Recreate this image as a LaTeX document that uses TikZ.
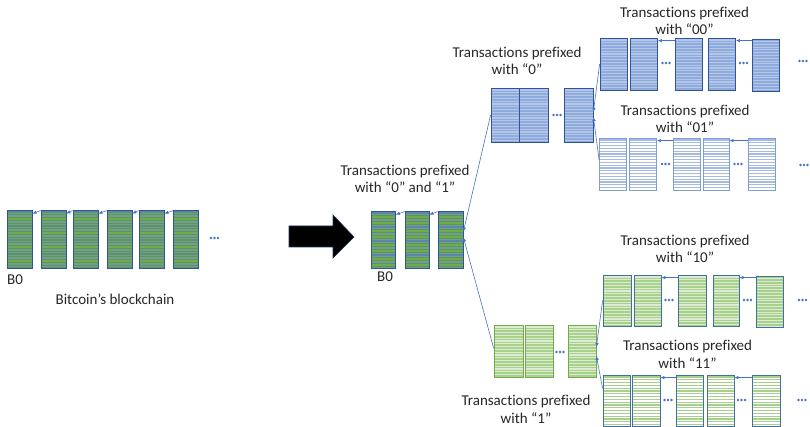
\documentclass[tikz,border=0pt]{standalone}
\usepackage{fontspec}
\setmainfont{Carlito}[Ligatures=NoCommon]
\usetikzlibrary{arrows.meta}
\definecolor{txt}{HTML}{262626}
\definecolor{conc}{HTML}{4472C4}
\definecolor{bordDark}{HTML}{2F5597}
\definecolor{bordSlate}{HTML}{41719C}
\definecolor{gMain}{HTML}{70AD47}
\definecolor{gLight}{HTML}{A9D18E}
\definecolor{gPale}{HTML}{DDEBD3}
\definecolor{bMain}{HTML}{8FAADC}
\definecolor{bPale}{HTML}{B4C7E7}
\definecolor{bBord}{HTML}{7F9CD4}
\tikzset{
  blkbase/.style={rectangle, inner sep=0pt, line width=0.8pt, minimum width=27pt, minimum height=52pt},
  stripes/.style 2 args={fill=#1, path picture={
      \foreach \k in {1,...,24}{
        \draw[#2, line width=1.1pt]
          ([yshift={-\k*2.8pt+0.8pt}]path picture bounding box.north west) --
          ([yshift={-\k*2.8pt+0.8pt}]path picture bounding box.north east);}}},
  chainMain/.style={blkbase, draw=bordDark, stripes={gMain}{bordSlate!85}, minimum width=25pt, minimum height=58pt},
  chainZero/.style={blkbase, draw=bordDark, stripes={bMain}{bPale}},
  chainZeroOne/.style={blkbase, draw=bBord, stripes={white}{bMain!80}},
  chainOne/.style={blkbase, draw=gMain, stripes={gLight}{gPale}},
  chainOneZero/.style={blkbase, draw=bordSlate, stripes={gLight}{gPale}, minimum height=51pt},
  chainOneOne/.style={blkbase, draw=bordSlate, stripes={white}{gLight}, minimum height=51pt},
  conn/.style={draw=conc, line width=0.6pt, -{Latex[length=4pt,width=3.5pt]}},
  lbl/.style={font=\fontsize{15}{17.5}\selectfont, text=txt, inner sep=0pt, align=center, anchor=base},
  tdots/.pic={\foreach \d in {-3.5,0,3.5} \fill[conc] (\d pt,0pt) circle (1.3pt);}
}
\begin{document}
\begin{tikzpicture}[x=1pt,y=-1pt]
\useasboundingbox (0,0) rectangle (810,427);

% left chain
\node[chainMain] (a1) at (19.5,239) {};
\node[chainMain] (a2) at (53.5,239) {};
\node[chainMain] (a3) at (85.5,239) {};
\node[chainMain] (a4) at (119.5,239) {};
\node[chainMain] (a5) at (151.5,239) {};
\node[chainMain] (a6) at (186,239) {};
\pic at (214.5,238) {tdots};
\foreach \p/\q in {a2/a1,a3/a2,a4/a3,a5/a4,a6/a5}
  \draw[conn] ([yshift=-1pt]\p.north west) -- ([yshift=-4pt]\q.north east);
\node[lbl, anchor=base west] (b0a) at (7,284) {B0};
\node[lbl] (bc) at (115,304) {Bitcoin’s blockchain};

% big arrow
\draw[fill=black, draw=bordDark!60!black, line width=0.6pt]
  (289,226) -- (333,226) -- (333,215) -- (354,237) -- (333,258) -- (333,247) -- (289,247) -- cycle;

% middle chain
\node[chainMain, minimum width=24pt, minimum height=57pt] (m1) at (383.5,239.5) {};
\node[chainMain, minimum width=24pt, minimum height=57pt] (m2) at (417,239.5) {};
\node[chainMain, minimum width=25pt, minimum height=57pt] (m3) at (450.5,239.5) {};
\draw[conn] ([yshift=-1pt]m2.north west) -- ([yshift=-4pt]m1.north east);
\draw[conn] ([yshift=-1pt]m3.north west) -- ([yshift=-4pt]m2.north east);
\node[lbl, anchor=base west] (b0b) at (377,282) {B0};
\node[lbl] (tm) at (405,193) {Transactions prefixed\\with “0” and “1”};

% branch 0
\node[chainZero, minimum width=28pt, minimum height=54pt] (z1) at (505,115) {};
\node[chainZero, minimum width=29pt, minimum height=54pt] (z2) at (533.5,115) {};
\node[chainZero, minimum width=29pt, minimum height=54pt] (z3) at (578.5,115) {};
\pic at (557,115) {tdots};
\node[lbl] (tz) at (517,75) {Transactions prefixed\\with “0”};

% branch 00
\node[chainZero] (za1) at (613.5,64) {};
\node[chainZero] (za2) at (644,64) {};
\node[chainZero] (za3) at (688.5,64) {};
\node[chainZero] (za4) at (722,64) {};
\node[chainZero] (za5) at (766,65.5) {};
\pic at (666,63) {tdots};
\pic at (743.5,63) {tdots};
\pic at (803,61) {tdots};
\draw[conn] ([yshift=-3pt]za3.north west) -- ([yshift=-3pt]za2.north east);
\draw[conn] ([yshift=-1.5pt]za5.north west) -- ([yshift=-3pt]za4.north east);
\node[lbl] (tza) at (684.5,35) {Transactions prefixed\\with “00”};

% branch 01
\node[chainZeroOne] (zb1) at (613,164) {};
\node[chainZeroOne] (zb2) at (643,164) {};
\node[chainZeroOne] (zb3) at (686.5,164) {};
\node[chainZeroOne, minimum width=26pt] (zb4) at (716,164) {};
\node[chainZeroOne] (zb5) at (762,164) {};
\pic at (665.5,164) {tdots};
\pic at (738,164) {tdots};
\pic at (804,165) {tdots};
\draw[conn] ([yshift=-3pt]zb3.north west) -- ([yshift=-3pt]zb2.north east);
\draw[conn] ([yshift=-3pt]zb5.north west) -- ([yshift=-3pt]zb4.north east);
\node[lbl] (tzb) at (685,133) {Transactions prefixed\\with “01”};

% branch 1
\node[chainOne, minimum width=29pt] (o1) at (508.5,351) {};
\node[chainOne, minimum width=28pt] (o2) at (539,351) {};
\node[chainOne, minimum width=28pt] (o3) at (582,351) {};
\pic at (560,352) {tdots};
\node[lbl] (to) at (526,423) {Transactions prefixed\\with “1”};

% branch 10
\node[chainOneZero, minimum width=28pt] (oa1) at (617,300.5) {};
\node[chainOneZero] (oa2) at (647.5,300.5) {};
\node[chainOneZero, minimum width=28pt] (oa3) at (692,300.5) {};
\node[chainOneZero, minimum width=26pt] (oa4) at (726,300.5) {};
\node[chainOneZero] (oa5) at (769.5,302) {};
\pic at (669,300) {tdots};
\pic at (747.5,300) {tdots};
\pic at (802.5,300) {tdots};
\draw[conn] ([yshift=-3pt]oa3.north west) -- ([yshift=-3pt]oa2.north east);
\draw[conn] ([yshift=-1.5pt]oa5.north west) -- ([yshift=-3pt]oa4.north east);
\node[lbl] (toa) at (685,263) {Transactions prefixed\\with “10”};

% branch 11
\node[chainOneOne] (ob1) at (616.5,400.5) {};
\node[chainOneOne, minimum width=28pt] (ob2) at (646,400.5) {};
\node[chainOneOne] (ob3) at (689.5,400.5) {};
\node[chainOneOne] (ob4) at (720.5,400.5) {};
\node[chainOneOne, minimum width=28pt] (ob5) at (766,400.5) {};
\pic at (668,400) {tdots};
\pic at (741.5,400) {tdots};
\pic at (802,400) {tdots};
\draw[conn] ([yshift=-3pt]ob3.north west) -- ([yshift=-3pt]ob2.north east);
\draw[conn] ([yshift=-3pt]ob5.north west) -- ([yshift=-3pt]ob4.north east);
\node[lbl] (tob) at (687.5,368) {Transactions prefixed\\with “11”};

% branch connectors
\draw[conn] (z1.west) -- ([yshift=8pt]m3.east);
\draw[conn] ([yshift=3pt]o1.west) -- ([yshift=2pt]m3.east);
\draw[conn] (za1.west) -- ([yshift=3pt]z3.east);
\draw[conn] ([yshift=4pt]zb1.west) -- ([yshift=-2pt]z3.east);
\draw[conn] (oa1.west) -- ([yshift=4pt]o3.east);
\draw[conn] ([yshift=12pt]ob1.west) -- ([yshift=-5pt]o3.east);
\end{tikzpicture}
\end{document}
